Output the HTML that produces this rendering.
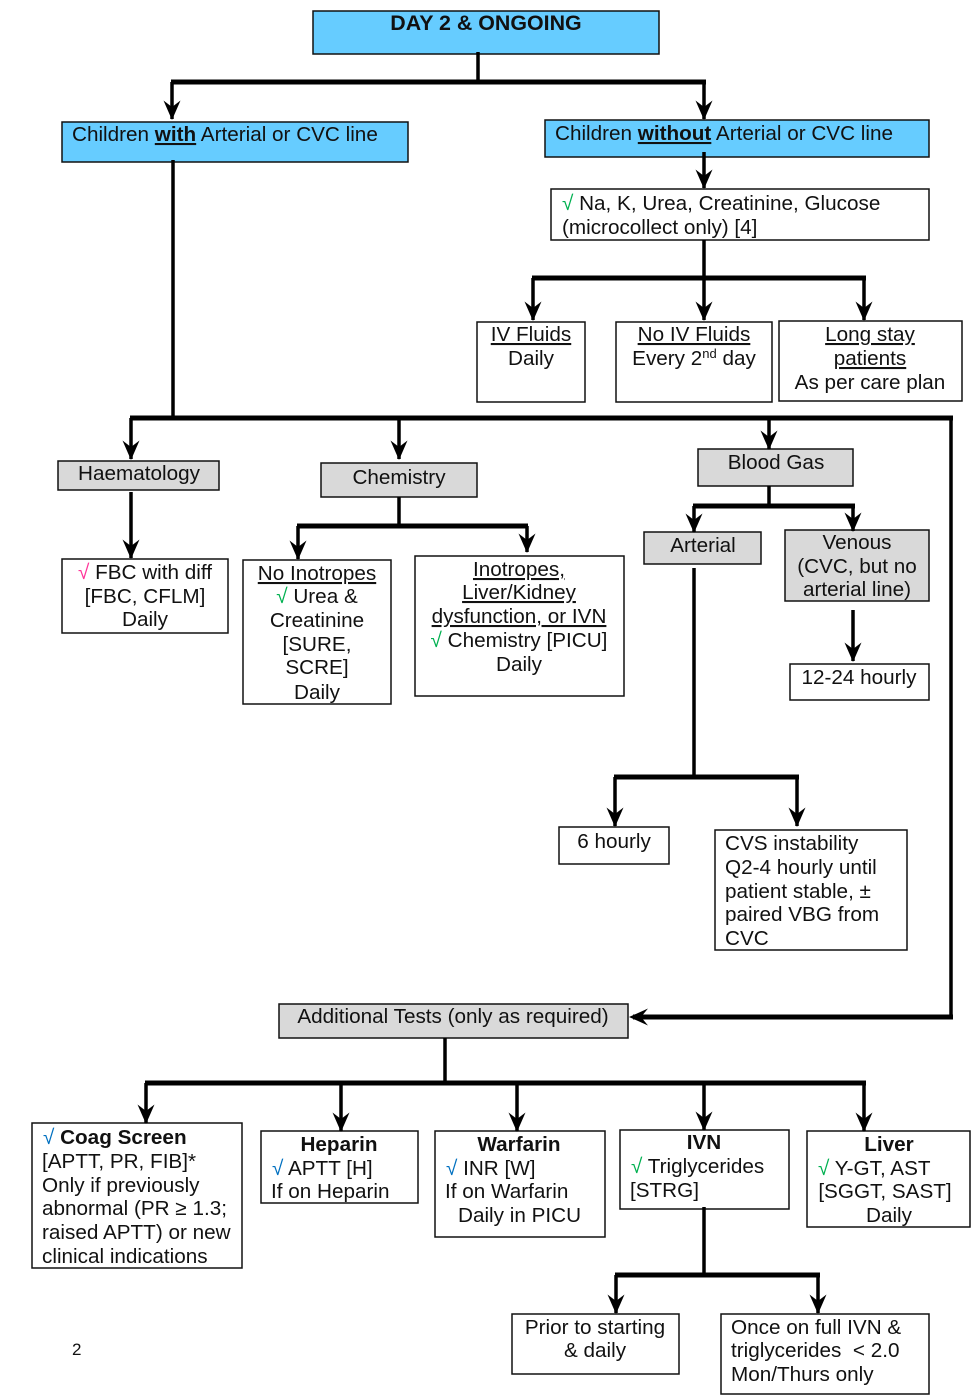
<!DOCTYPE html>
<html><head><meta charset="utf-8"><style>
html,body{margin:0;padding:0;background:#fff}
svg{display:block}
text{font-family:"Liberation Sans",sans-serif;font-size:20.7px;fill:#111}
.b{font-weight:700}
.m{text-anchor:middle}
.g{fill:#00b050}.p{fill:#ff3399}.c{fill:#0070c0}
.box rect{stroke:#111;stroke-width:1.5}
.w{fill:#fff}.bl{fill:#66ccff}.gr{fill:#d9d9d9}
.l path{fill:none;stroke:#000;stroke-width:3.5}
.h path{fill:none;stroke:#000;stroke-width:5}
</style></head><body>
<svg width="977" height="1398" viewBox="0 0 977 1398" xmlns="http://www.w3.org/2000/svg">
<defs>
<marker id="a" markerUnits="userSpaceOnUse" markerWidth="20" markerHeight="22" refX="10" refY="20" orient="0" viewBox="0 0 20 22"><path d="M10 21L1.5 1.5L10 8L18.5 1.5Z" fill="#000"/></marker>
<marker id="ar" markerUnits="userSpaceOnUse" markerWidth="22" markerHeight="20" refX="5" refY="10" orient="0" viewBox="0 0 22 20"><path d="M1 10L20 1.5L13 10L20 18.5Z" fill="#000"/></marker>
</defs>
<g class="box">
<rect class="bl" x="313" y="11" width="346" height="43"/>
<rect class="bl" x="62" y="122" width="346" height="40"/>
<rect class="bl" x="545" y="120" width="384" height="37"/>
<rect class="w" x="551" y="189" width="378" height="51"/>
<rect class="w" x="477" y="322" width="108" height="80"/>
<rect class="w" x="616" y="322" width="156" height="80"/>
<rect class="w" x="779" y="321" width="183" height="80"/>
<rect class="gr" x="58" y="461" width="161" height="29"/>
<rect class="gr" x="321" y="463" width="156" height="34"/>
<rect class="gr" x="698" y="449" width="155" height="37"/>
<rect class="gr" x="644" y="532" width="117" height="32"/>
<rect class="gr" x="785" y="530" width="144" height="71"/>
<rect class="w" x="790" y="664" width="139" height="36"/>
<rect class="w" x="62" y="559" width="166" height="74"/>
<rect class="w" x="243" y="560" width="148" height="144"/>
<rect class="w" x="415" y="556" width="209" height="140"/>
<rect class="w" x="559" y="827" width="110" height="37"/>
<rect class="w" x="715" y="830" width="192" height="120"/>
<rect class="gr" x="279" y="1004" width="349" height="34"/>
<rect class="w" x="32" y="1123" width="210" height="145"/>
<rect class="w" x="261" y="1131" width="157" height="72"/>
<rect class="w" x="435" y="1131" width="170" height="106"/>
<rect class="w" x="620" y="1130" width="169" height="79"/>
<rect class="w" x="807" y="1131" width="163" height="96"/>
<rect class="w" x="512" y="1314" width="167" height="60"/>
<rect class="w" x="721" y="1314" width="208" height="80"/>
</g>
<g class="l">
<path d="M478 52V82"/>
<path d="M172 82V119" marker-end="url(#a)"/>
<path d="M704 82V119" marker-end="url(#a)"/>
<path d="M704 152V188" marker-end="url(#a)"/>
<path d="M704 240V320" marker-end="url(#a)"/>
<path d="M533 278V320" marker-end="url(#a)"/>
<path d="M864 278V320" marker-end="url(#a)"/>
<path d="M173 160V418"/>
<path d="M951 418V1017"/>
<path d="M131 418V459" marker-end="url(#a)"/>
<path d="M399 418V459" marker-end="url(#a)"/>
<path d="M769 418V449" marker-end="url(#a)"/>
<path d="M131 492V558" marker-end="url(#a)"/>
<path d="M399 497V526"/>
<path d="M298 526V559" marker-end="url(#a)"/>
<path d="M527 526V552" marker-end="url(#a)"/>
<path d="M769 486V506"/>
<path d="M694 506V532" marker-end="url(#a)"/>
<path d="M853 506V531" marker-end="url(#a)"/>
<path d="M694 568V777"/>
<path d="M615 777V826" marker-end="url(#a)"/>
<path d="M797 777V826" marker-end="url(#a)"/>
<path d="M853 610V661" marker-end="url(#a)"/>
<path d="M445 1038V1083"/>
<path d="M146 1083V1123" marker-end="url(#a)"/>
<path d="M341 1083V1131" marker-end="url(#a)"/>
<path d="M517 1083V1131" marker-end="url(#a)"/>
<path d="M704 1083V1130" marker-end="url(#a)"/>
<path d="M864 1083V1131" marker-end="url(#a)"/>
<path d="M704 1207V1275"/>
<path d="M616 1275V1313" marker-end="url(#a)"/>
<path d="M818 1275V1313" marker-end="url(#a)"/>
</g>
<g class="h">
<path d="M171 82H706"/>
<path d="M532 278H866"/>
<path d="M130 418H953"/>
<path d="M953 1017H633" marker-end="url(#ar)"/>
<path d="M297 526H528"/>
<path d="M693 506H855"/>
<path d="M614 777H799"/>
<path d="M145 1083H866"/>
<path d="M615 1275H820"/>
</g>

<text class="b m" x="486" y="30" style="font-size:21.4px">DAY 2 &amp; ONGOING</text>
<text x="72" y="141">Children <tspan class="b" text-decoration="underline">with</tspan> Arterial or CVC line</text>
<text x="555" y="140">Children <tspan class="b" text-decoration="underline">without</tspan> Arterial or CVC line</text>
<text x="562" y="210"><tspan class="g">√</tspan> Na, K, Urea, Creatinine, Glucose</text>
<text x="562" y="234">(microcollect only) [4]</text>
<text class="m" x="531" y="341" text-decoration="underline">IV Fluids</text>
<text class="m" x="531" y="365">Daily</text>
<text class="m" x="694" y="341" text-decoration="underline">No IV Fluids</text>
<text class="m" x="694" y="365">Every 2<tspan font-size="13" dy="-7">nd</tspan><tspan dy="7"> day</tspan></text>
<text class="m" x="870" y="341" text-decoration="underline">Long stay</text>
<text class="m" x="870" y="365" text-decoration="underline">patients</text>
<text class="m" x="870" y="389">As per care plan</text>

<text class="m" x="139" y="480">Haematology</text>
<text class="m" x="399" y="484">Chemistry</text>
<text class="m" x="776" y="469">Blood Gas</text>
<text class="m" x="703" y="552">Arterial</text>
<text class="m" x="857" y="549">Venous</text>
<text class="m" x="857" y="573">(CVC, but no</text>
<text class="m" x="857" y="596">arterial line)</text>
<text class="m" x="859" y="684">12-24 hourly</text>
<text class="m" x="145" y="579"><tspan class="p">√</tspan> FBC with diff</text>
<text class="m" x="145" y="603">[FBC, CFLM]</text>
<text class="m" x="145" y="626">Daily</text>
<text class="m" x="317" y="580" text-decoration="underline">No Inotropes</text>
<text class="m" x="317" y="603"><tspan class="g">√</tspan> Urea &amp;</text>
<text class="m" x="317" y="627">Creatinine</text>
<text class="m" x="317" y="651">[SURE,</text>
<text class="m" x="317" y="674">SCRE]</text>
<text class="m" x="317" y="699">Daily</text>
<text class="m" x="519" y="576" text-decoration="underline">Inotropes,</text>
<text class="m" x="519" y="599" text-decoration="underline">Liver/Kidney</text>
<text class="m" x="519" y="623" text-decoration="underline">dysfunction, or IVN</text>
<text class="m" x="519" y="647"><tspan class="g">√</tspan> Chemistry [PICU]</text>
<text class="m" x="519" y="671">Daily</text>
<text class="m" x="614" y="848">6 hourly</text>
<text x="725" y="850">CVS instability</text>
<text x="725" y="874">Q2-4 hourly until</text>
<text x="725" y="898">patient stable, ±</text>
<text x="725" y="921">paired VBG from</text>
<text x="725" y="945">CVC</text>

<text class="m" x="453" y="1023">Additional Tests (only as required)</text>
<text x="43" y="1144"><tspan class="c">√</tspan> <tspan class="b">Coag Screen</tspan></text>
<text x="42" y="1168">[APTT, PR, FIB]*</text>
<text x="42" y="1192">Only if previously</text>
<text x="42" y="1215">abnormal (PR ≥ 1.3;</text>
<text x="42" y="1239">raised APTT) or new</text>
<text x="42" y="1263">clinical indications</text>
<text class="b m" x="339" y="1151">Heparin</text>
<text x="272" y="1175"><tspan class="c">√</tspan> APTT [H]</text>
<text x="271" y="1198">If on Heparin</text>
<text class="b m" x="519" y="1151">Warfarin</text>
<text x="446" y="1175"><tspan class="c">√</tspan> INR [W]</text>
<text x="445" y="1198">If on Warfarin</text>
<text x="458" y="1222">Daily in PICU</text>
<text class="b m" x="704" y="1149">IVN</text>
<text x="631" y="1173"><tspan class="g">√</tspan> Triglycerides</text>
<text x="630" y="1197">[STRG]</text>
<text class="b m" x="889" y="1151">Liver</text>
<text x="818" y="1175"><tspan class="g">√</tspan> Y-GT, AST</text>
<text class="m" x="885" y="1198">[SGGT, SAST]</text>
<text class="m" x="889" y="1222">Daily</text>
<text class="m" x="595" y="1334">Prior to starting</text>
<text class="m" x="595" y="1357">&amp; daily</text>
<text x="731" y="1334">Once on full IVN &amp;</text>
<text x="731" y="1357" xml:space="preserve">triglycerides  &lt; 2.0</text>
<text x="731" y="1381">Mon/Thurs only</text>
<text x="72" y="1355" style="font-size:17px">2</text>
</svg>
</body></html>
